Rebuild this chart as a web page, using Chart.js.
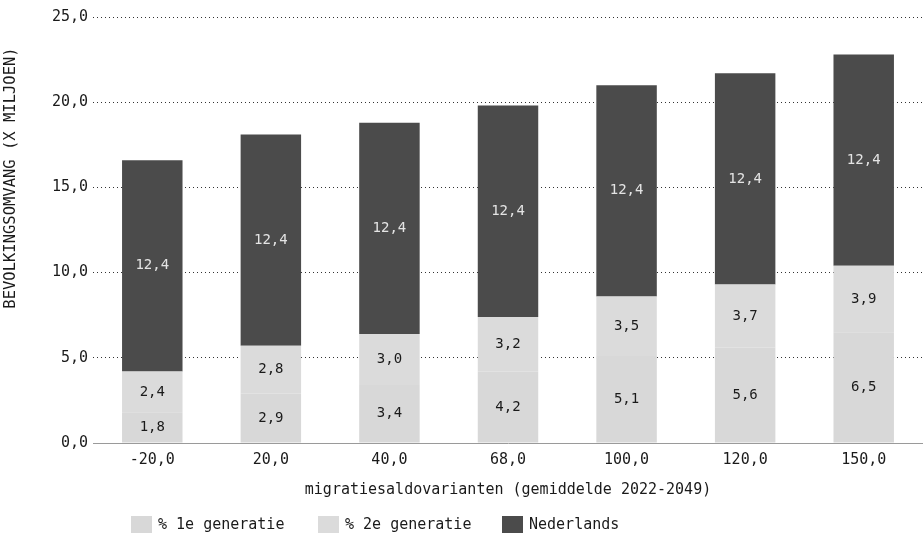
<!DOCTYPE html>
<html>
<head>
<meta charset="utf-8">
<script src="https://cdn.jsdelivr.net/npm/chart.js@4.4.1/dist/chart.umd.min.js"></script>
<style>
  body { margin: 0; background: #fff; }
  .wrap { position: relative; width: 923px; height: 539px; }
  .legend { position: absolute; top: 515px; left: 0; font: 15px "DejaVu Sans Mono", monospace; color: #1a1a1a; }
  .legend span.item { position: absolute; white-space: nowrap; display: flex; align-items: center; }
  .legend i { display: inline-block; width: 21px; height: 17px; margin-right: 6px; }
</style>
</head>
<body>
<div class="wrap">
  <canvas id="chart" width="923" height="539"></canvas>
  <div class="legend" id="legend"></div>
</div>
<script>
const categories = ['-20,0', '20,0', '40,0', '68,0', '100,0', '120,0', '150,0'];
const eersteGen = [1.8, 2.9, 3.4, 4.2, 5.1, 5.6, 6.5];
const tweedeGen = [2.4, 2.8, 3.0, 3.2, 3.5, 3.7, 3.9];
const nederlands = [12.4, 12.4, 12.4, 12.4, 12.4, 12.4, 12.4];
const yTicks = [0, 5, 10, 15, 20, 25];

const FONT = '"DejaVu Sans Mono", monospace';
const fmt = v => v.toFixed(1).replace('.', ',');

const series = [
  { label: '% 1e generatie', data: eersteGen, color: '#d8d8d8', text: '#1a1a1a' },
  { label: '% 2e generatie', data: tweedeGen, color: '#dbdbdb', text: '#1a1a1a' },
  { label: 'Nederlands', data: nederlands, color: '#4b4b4b', text: '#e4e4e4' }
];

// value labels in the middle of each segment
const barLabels = {
  id: 'barLabels',
  afterDatasetsDraw(chart) {
    const ctx = chart.ctx;
    ctx.save();
    ctx.font = '14px ' + FONT;
    ctx.textAlign = 'center';
    ctx.textBaseline = 'middle';
    chart.data.datasets.forEach((ds, i) => {
      chart.getDatasetMeta(i).data.forEach((bar, j) => {
        ctx.fillStyle = series[i].text;
        ctx.fillText(fmt(ds.data[j]), bar.x, (bar.y + bar.base) / 2);
      });
    });
    ctx.restore();
  }
};

// y-axis title, sits a bit above the middle in the original
const yTitle = {
  id: 'yTitle',
  afterDraw(chart) {
    const ctx = chart.ctx;
    ctx.save();
    ctx.translate(11, 178);
    ctx.rotate(-Math.PI / 2);
    ctx.font = '15.5px ' + FONT;
    ctx.fillStyle = '#1a1a1a';
    ctx.textAlign = 'center';
    ctx.textBaseline = 'middle';
    ctx.fillText('BEVOLKINGSOMVANG (X MILJOEN)', 0, 0);
    ctx.restore();
  }
};

new Chart(document.getElementById('chart'), {
  type: 'bar',
  data: {
    labels: categories,
    datasets: series.map(s => ({
      label: s.label,
      data: s.data,
      backgroundColor: s.color,
      barPercentage: 1,
      categoryPercentage: 0.51
    }))
  },
  options: {
    responsive: false,
    animation: false,
    layout: { padding: { top: 17, bottom: 40, left: 0, right: 0 } },
    plugins: {
      legend: { display: false },
      tooltip: { enabled: false }
    },
    scales: {
      x: {
        stacked: true,
        grid: { display: false },
        border: { display: true, color: '#9a9a9a', width: 1 },
        ticks: { color: '#1a1a1a', font: { family: FONT, size: 15 }, padding: 0 },
        title: {
          display: true,
          text: 'migratiesaldovarianten (gemiddelde 2022-2049)',
          color: '#1a1a1a',
          font: { family: FONT, size: 15 },
          padding: 0
        },
        afterFit(scale) { scale.height = 56; }
      },
      y: {
        stacked: true,
        min: 0,
        max: 25,
        afterBuildTicks(scale) { scale.ticks = yTicks.map(v => ({ value: v })); },
        grid: {
          color: '#333',
          drawTicks: false
        },
        border: { display: false, dash: [1, 3] },
        ticks: {
          color: '#1a1a1a',
          font: { family: FONT, size: 15 },
          padding: 5,
          callback: v => fmt(v)
        },
        afterFit(scale) { scale.width = 93; }
      }
    }
  },
  plugins: [barLabels, yTitle]
});

// legend below the chart
const legend = document.getElementById('legend');
const legendX = [131, 318, 502];
series.forEach((s, i) => {
  const item = document.createElement('span');
  item.className = 'item';
  item.style.left = legendX[i] + 'px';
  item.innerHTML = '<i style="background:' + s.color + '"></i>' + s.label;
  legend.appendChild(item);
});
</script>
</body>
</html>
